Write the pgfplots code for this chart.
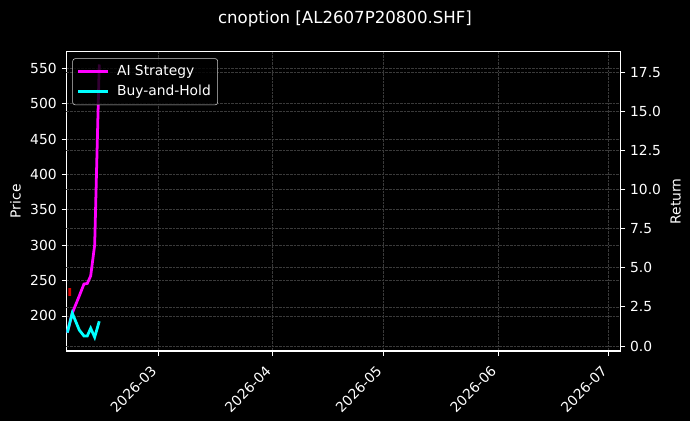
\documentclass[border=0pt]{standalone}
\usepackage{fontspec}
\setmainfont{DejaVu Sans}
\usepackage{pgfplots}
\pgfplotsset{compat=1.18}

\definecolor{gridc}{HTML}{3A3A3A}
\definecolor{legedge}{HTML}{CCCCCC}

\pgfplotsset{
  common/.style={
    scale only axis,
    width=398.9bp, height=215.5bp,
    at={(47.8bp,50.4bp)}, anchor=south west,
    xmin=34.09, xmax=184.14,
    tick align=outside,
    major tick length=3.5bp,
    every tick/.style={white, line width=0.6pt},
    tick label style={font=\fontsize{10}{12}\selectfont, text=white},
    label style={font=\fontsize{10}{12}\selectfont, text=white},
    /pgf/number format/assume math mode=true,
    grid style={gridc, line width=0.5pt, dash pattern=on 1.85pt off 0.8pt},
    axis line style={white, line width=0.8pt},
  },
}

\begin{document}
\begin{tikzpicture}
\fill[black] (0,0) rectangle (496.8bp,303.1bp);
\node[text=white, font=\fontsize{12}{14}\selectfont] at (248.4bp,289.4bp) {cnoption [AL2607P20800.SHF]};

% price axis (left)
\begin{axis}[common,
  ymin=150.5, ymax=573.5,
  ytick={200,250,...,550},
  xtick={59,90,120,151,181},
  xticklabels={2026-03,2026-04,2026-05,2026-06,2026-07},
  xticklabel style={xshift=-6bp, yshift=-5bp, rotate=45, anchor=north east, inner sep=1pt},
  ytick pos=left, xtick pos=bottom,
  grid=major,
  ylabel={Price},
]
\addplot[red!85!black, line width=2pt] coordinates {(34.97,239.2) (35.0,228.3)};
\end{axis}

% return axis (right)
\begin{axis}[common,
  ymin=-0.32, ymax=18.82,
  ytick={0,2.5,...,17.5},
  yticklabel style={/pgf/number format/.cd, fixed, fixed zerofill, precision=1},
  axis y line*=right, axis x line=none,
  ymajorgrids,
  ylabel={Return},
  legend cell align=left,
  legend style={at={(0,1)}, anchor=north west, xshift=4.3bp, yshift=-4.75bp,
    fill=black, fill opacity=0.8, text opacity=1, draw=legedge, rounded corners=2pt,
    text=white, font=\fontsize{10}{12}\selectfont, inner sep=3bp, row sep=1.5pt},
  legend image code/.code={\draw[#1] (0bp,0bp) -- (21.6bp,0bp); \path (25bp,0bp);},
]
\addplot[color={rgb,255:red,255;green,0;blue,255}, line width=2pt] coordinates {
  (34.33,0.85) (35.68,2.1) (37.58,3.2) (38.85,3.96) (39.75,4.0)
  (40.67,4.48) (41.75,6.46) (42.99,18.0)
};
\addlegendentry{AI Strategy}
\addplot[color={rgb,255:red,0;green,255;blue,255}, line width=2pt] coordinates {
  (34.33,0.85) (35.68,2.1) (37.58,1.02) (38.85,0.64) (39.75,0.64)
  (40.67,1.13) (41.75,0.56) (42.99,1.58)
};
\addlegendentry{Buy-and-Hold}
\end{axis}
\end{tikzpicture}
\end{document}
